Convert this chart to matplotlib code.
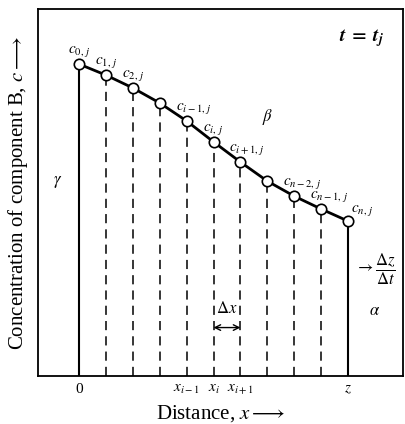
import matplotlib
matplotlib.use("Agg")
import matplotlib.pyplot as plt

plt.rcParams['font.family'] = ['Liberation Serif', 'DejaVu Serif']
plt.rcParams['mathtext.fontset'] = 'stix'

# data
x_nodes = [0, 1, 2, 3, 4, 5, 6, 7, 8, 9, 10]
c_nodes = [0.850, 0.820, 0.785, 0.744, 0.695, 0.638, 0.583, 0.531, 0.490, 0.455, 0.422]
node_labels = [r'$c_{0,\,j}$', r'$c_{1,\,j}$', r'$c_{2,\,j}$', '', r'$c_{i-1,\,j}$', r'$c_{i,\,j}$',
               r'$c_{i+1,\,j}$', '', r'$c_{n-2,\,j}$', r'$c_{n-1,\,j}$', r'$c_{n,\,j}$']
tick_pos = [0, 4, 5, 6, 10]
tick_labels = ['0', r'$x_{i-1}$', r'$x_i$', r'$x_{i+1}$', r'$z$']

fig = plt.figure(figsize=(4.06, 4.24), dpi=100)
ax = fig.add_axes([0.0936, 0.1132, 0.899, 0.8656])
ax.set_xlim(-1.52, 12.04)
ax.set_ylim(0, 1)

# vertical lines
for i, (x, c) in enumerate(zip(x_nodes, c_nodes)):
    if i == 0 or i == len(x_nodes) - 1:
        ax.plot([x, x], [0, c], color='black', lw=1.5, zorder=2)
    else:
        ax.plot([x, x], [0, c], color='black', lw=1.1, ls=(0, (6, 4)), zorder=2)

ax.plot(x_nodes, c_nodes, color='black', lw=2.0, zorder=3)
ax.plot(x_nodes, c_nodes, 'o', ms=7.5, mfc='white', mec='black', mew=1.2, zorder=4)

for i, (x, c, lab) in enumerate(zip(x_nodes, c_nodes, node_labels)):
    if not lab:
        continue
    off = (-11, 5) if i < len(x_nodes) - 1 else (3, 3)
    ax.annotate(lab, (x, c), xytext=off, textcoords='offset pixels',
                ha='left', va='bottom', fontsize=11)

ax.text(11.35, 0.92, r'$\boldsymbol{t}\;\mathbf{=}\;\boldsymbol{t}_{\boldsymbol{j}}$',
        ha='right', va='center', fontsize=14)
ax.text(7.0, 0.706, r'$\beta$', ha='center', va='center', fontsize=12)
ax.text(-0.78, 0.528, r'$\gamma$', ha='center', va='center', fontsize=12)
ax.text(11.0, 0.178, r'$\alpha$', ha='center', va='center', fontsize=12)
ax.text(10.25, 0.29, r'$\rightarrow\dfrac{\Delta z}{\Delta t}$', ha='left', va='center', fontsize=12)

# delta x
ax.annotate('', xy=(5, 0.132), xytext=(6, 0.132),
            arrowprops=dict(arrowstyle='<->', color='black', lw=1.0, shrinkA=0, shrinkB=0))
ax.text(5.5, 0.16, r'$\Delta x$', ha='center', va='bottom', fontsize=12)

ax.set_xticks(tick_pos)
ax.set_xticklabels(tick_labels, fontsize=11)
ax.set_yticks([])
ax.tick_params(axis='x', length=0, pad=5)
for s in ax.spines.values():
    s.set_linewidth(1.3)

ax.set_xlabel(r'Distance, $x \longrightarrow$', fontsize=15, labelpad=4)
ax.set_ylabel(r'Concentration of component B, $c \longrightarrow$', fontsize=15, labelpad=6)

fig.savefig('out.png', dpi=100)
